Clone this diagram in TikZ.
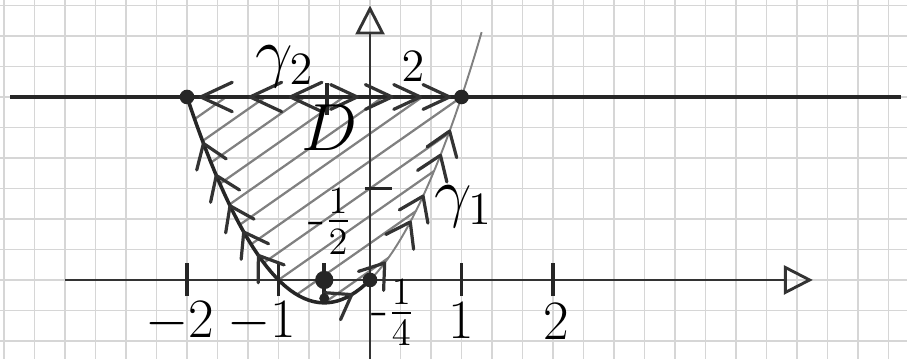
\documentclass[tikz,border=0pt]{standalone}
\usepackage{amsmath}
\usetikzlibrary{arrows.meta}

\begin{document}
\begin{tikzpicture}[
  grd/.style={draw=black!16,line width=0.35pt},
  axis/.style={line width=0.9pt,black!80,-{Triangle[open,length=9pt,width=9pt]}},
  curve/.style={line width=1.1pt,black!85},
  pencil/.style={line width=0.6pt,black!50},
  hatch/.style={line width=0.7pt,black!50},
  chev/.style={line width=1pt,black!80,line cap=round,line join=round},
  tick/.style={line width=1.1pt,black!85},
  dot/.style={circle,fill=black!85,inner sep=0pt,minimum size=1.6mm},
  lbl/.style={font=\LARGE,inner sep=1pt}]
  \useasboundingbox (-4.044,-0.863) rectangle (5.869,3.060);
  % squared paper
  \draw[grd,step=1/3] (-4.044,-0.863) grid (5.869,3.060);
  % hatched region D
  \begin{scope}
    \clip plot[domain=-2:1,samples=40] (\x,{\x*\x+\x}) -- cycle;
    \foreach \c in {0.1,0.4,...,3.5}
      \draw[hatch] (-3,{\c-2.1}) -- (2,{\c+1.4});
  \end{scope}
  \draw[axis] (-3.33,0) -- (4.84,0);
  \draw[axis] (0,-0.87) -- (0,3.0);
  \draw[curve] (-3.93,2) -- (5.8,2);
  \draw[curve] plot[domain=-2:0,samples=40] (\x,{\x*\x+\x});
  \draw[pencil] plot[domain=0:1.22,samples=30] (\x,{\x*\x+\x});
  % ticks
  \foreach \t in {-2,-1,1,2}
    \draw[tick] (\t,-0.18) -- (\t,0.18);
  \draw[tick] (-0.5,-0.15) -- (-0.5,0.18);
  \draw[tick] (-0.06,1) -- (0.24,1);
  \draw[tick] (-0.47,1.8) -- (-0.47,2.15);
  % orientation marks
  \foreach \x in {-1.85,-1.31,-0.87}
    \draw[chev] (\x,2) ++(25:0.38) -- (\x,2) -- ++(-25:0.38);
  \foreach \x in {-0.14,0.24,0.55,0.87}
    \draw[chev] (\x,2) ++(155:0.32) -- (\x,2) -- ++(-155:0.32);
  \foreach \x in {-1.82,-1.68,-1.53,-1.38,-1.22} {
    \pgfmathsetmacro\a{atan2(-(2*\x+1),-1)}
    \draw[chev] (\x,{\x*\x+\x}) ++(\a+145:0.3) -- (\x,{\x*\x+\x}) -- ++(\a-145:0.3);
  }
  \foreach \x in {-0.2,0.16,0.44,0.58,0.77,0.87} {
    \pgfmathsetmacro\a{atan2(2*\x+1,1)}
    \draw[chev] (\x,{\x*\x+\x}) ++(\a+145:0.3) -- (\x,{\x*\x+\x}) -- ++(\a-145:0.3);
  }
  % points
  \node[dot] (pl) at (-2,2) {};
  \node[dot] (pr) at (1,2) {};
  \node[dot] (po) at (0,0) {};
  \node[dot,minimum size=2mm] (ph) at (-0.5,0) {};
  \node[dot,minimum size=1.1mm] (pv) at (-0.5,-0.2) {};
  % labels
  \node[lbl] (xa) at (-2.08,-0.46) {$-2$};
  \node[lbl] (xb) at (-1.18,-0.46) {$-1$};
  \node[lbl] (xc) at (1.0,-0.44) {$1$};
  \node[lbl] (xd) at (2.04,-0.46) {$2$};
  \node[lbl] (quart) at (0.25,-0.36) {$\text{-}\frac{1}{4}$};
  \node[lbl] (half) at (-0.44,0.64) {$\text{-}\frac{1}{2}$};
  \node[font=\huge] (dom) at (-0.44,1.66) {$D$};
  \node[font=\huge] (gtwo) at (-0.93,2.33) {$\gamma_2$};
  \node[font=\Large] (two) at (0.47,2.33) {$2$};
  \node[font=\huge] (gone) at (1.02,0.8) {$\gamma_1$};
\end{tikzpicture}
\end{document}
